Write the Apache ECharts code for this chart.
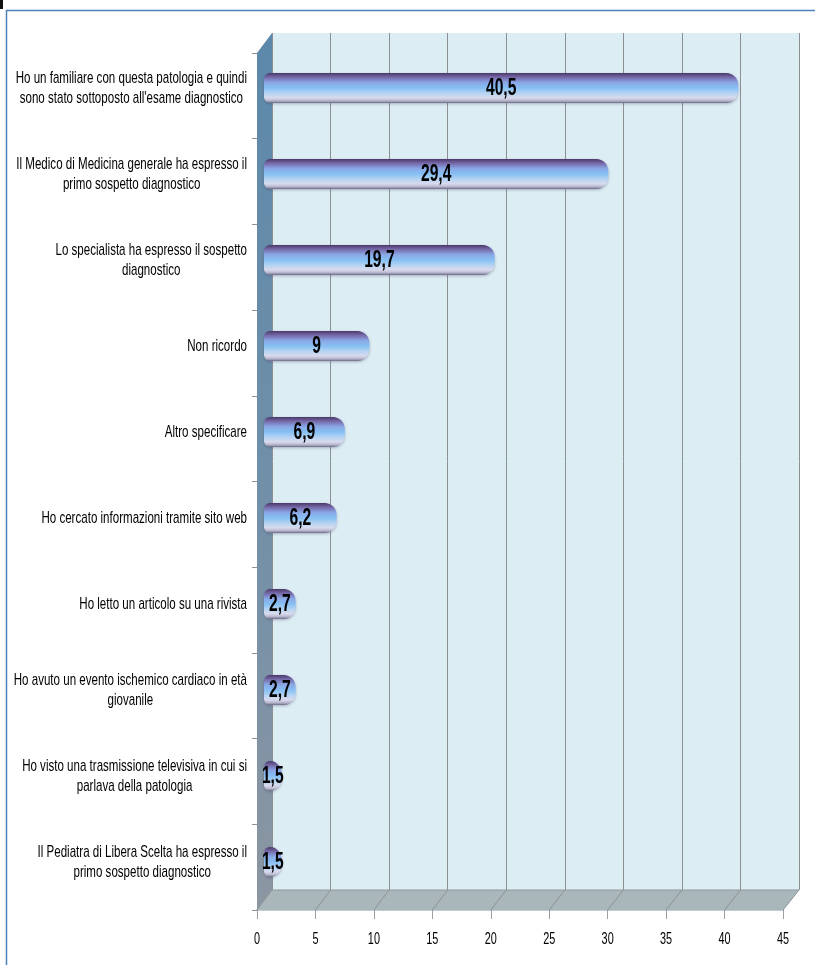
<!DOCTYPE html>
<html>
<head>
<meta charset="utf-8">
<script src="https://cdn.jsdelivr.net/npm/echarts@6/dist/echarts.min.js"></script>
<style>
  html, body { margin: 0; padding: 0; background: #ffffff; }
  #chart { width: 815px; height: 965px; }
</style>
</head>
<body>
<div id="chart"></div>
<script>
// Reasons behind the diagnostic test (percent of respondents)
const categories = [
  "Ho un familiare con questa patologia e quindi\nsono stato sottoposto all'esame diagnostico",
  "Il Medico di Medicina generale ha espresso il\nprimo sospetto diagnostico",
  "Lo specialista ha espresso il sospetto\ndiagnostico",
  "Non ricordo",
  "Altro specificare",
  "Ho cercato informazioni tramite sito web",
  "Ho letto un articolo su una rivista",
  "Ho avuto un evento ischemico cardiaco in età\ngiovanile",
  "Ho visto una trasmissione televisiva in cui si\nparlava della patologia",
  "Il Pediatra di Libera Scelta ha espresso il\nprimo sospetto diagnostico"
];
const values = [40.5, 29.4, 19.7, 9, 6.9, 6.2, 2.7, 2.7, 1.5, 1.5];
const xTicks = [0, 5, 10, 15, 20, 25, 30, 35, 40, 45];

// narrow lettering: Arial-metric face squeezed horizontally
const FONT = "'Liberation Sans', Arial, sans-serif";
const SQUEEZE = 0.68;
const xMin = xTicks[0], xMax = xTicks[xTicks.length - 1], xStep = xTicks[1] - xTicks[0];
const fmt = v => String(v).replace('.', ',');

const chart = echarts.init(document.getElementById('chart'), null, { renderer: 'canvas' });

const valueAxis = (gridIndex, extra) => Object.assign({
  type: 'value', gridIndex, min: xMin, max: xMax, interval: xStep,
  axisLine: { show: false }, axisTick: { show: false },
  axisLabel: { show: false }, splitLine: { show: false }
}, extra);

const catAxis = (gridIndex, extra) => Object.assign({
  type: 'category', gridIndex, data: categories, inverse: true,
  axisLine: { show: false }, axisTick: { show: false },
  axisLabel: { show: false }, splitLine: { show: false }
}, extra);

chart.setOption({
  animation: false,
  backgroundColor: '#ffffff',
  grid: [
    // back wall
    { left: 272, right: 16, top: 33, bottom: 75, show: true, backgroundColor: '#dcedf4', borderWidth: 0, outerBoundsMode: 'none' },
    // bar plane (mid depth)
    { left: 264, right: 24, top: 45, bottom: 60, outerBoundsMode: 'none' },
    // front edge with the value axis
    { left: 257, right: 32, top: 53, bottom: 55, outerBoundsMode: 'none' }
  ],
  xAxis: [
    valueAxis(0, { splitLine: { show: true, lineStyle: { color: '#8c9093', width: 1 } } }),
    valueAxis(1),
    valueAxis(2, {
      axisLine: { show: true, lineStyle: { color: '#c3ccd0', width: 2 } },
      axisTick: { show: true, length: 9, lineStyle: { color: '#9aa2a6' } }
    })
  ],
  yAxis: [
    catAxis(0),
    catAxis(1),
    catAxis(2, {
      axisTick: { show: true, inside: false, length: 5, lineStyle: { color: '#8a9296' } }
    })
  ],
  series: [{
    type: 'bar',
    xAxisIndex: 1, yAxisIndex: 1,
    data: values,
    barWidth: 30,
    z: 5,
    itemStyle: {
      borderRadius: [6, 12, 12, 6],
      color: new echarts.graphic.LinearGradient(0, 0, 0, 1, [
        { offset: 0.00, color: '#4a3868' },
        { offset: 0.14, color: '#7668a8' },
        { offset: 0.32, color: '#8aa8e6' },
        { offset: 0.50, color: '#86c0f4' },
        { offset: 0.68, color: '#b6d4f2' },
        { offset: 0.83, color: '#dadaee' },
        { offset: 0.93, color: '#b2b2ca' },
        { offset: 1.00, color: '#6a6a82' }
      ]),
      shadowColor: 'rgba(60,60,90,0.35)', shadowBlur: 3, shadowOffsetY: 1
    }
  }]
});

function squeezedText(x, y, text, size, weight, align, extra) {
  return Object.assign({
    type: 'text', z: 20, silent: true, x, y, scaleX: SQUEEZE, scaleY: 1,
    style: {
      text, fill: '#000', fontFamily: FONT, fontSize: size, fontWeight: weight,
      align, textAlign: align, verticalAlign: 'middle', textVerticalAlign: 'middle'
    }
  }, extra || {});
}

// 3-D box (side wall, floor, depth lines) and all lettering, placed from the axis scales
function decorate() {
  const xb = v => chart.convertToPixel({ xAxisIndex: 0 }, v);
  const xf = v => chart.convertToPixel({ xAxisIndex: 2 }, v);
  const W = chart.getWidth(), H = chart.getHeight();
  const backTop = 33, backBottom = H - 75, frontTop = 53, frontBottom = H - 55;

  const els = [];
  els.push({
    type: 'polygon', z: 3, silent: true,
    shape: { points: [[xb(xMin), backTop], [xb(xMin), backBottom], [xf(xMin), frontBottom], [xf(xMin), frontTop]] },
    style: {
      fill: new echarts.graphic.LinearGradient(0, 0, 0, 1, [
        { offset: 0, color: '#5c88aa' }, { offset: 0.55, color: '#7290a8' }, { offset: 1, color: '#8c96a2' }
      ])
    }
  });
  els.push({
    type: 'polygon', z: 3, silent: true,
    shape: { points: [[xb(xMin), backBottom], [xb(xMax), backBottom], [xf(xMax), frontBottom], [xf(xMin), frontBottom]] },
    style: { fill: '#a9b6ba' }
  });
  xTicks.forEach(v => {
    els.push({
      type: 'line', z: 3, silent: true,
      shape: { x1: xb(v), y1: backBottom, x2: xf(v), y2: frontBottom },
      style: { stroke: '#8a9397', lineWidth: 1 }
    });
    // value-axis tick labels
    els.push(squeezedText(xf(v), frontBottom + 30, String(v), 16, 'normal', 'center'));
  });
  els.push({
    type: 'line', z: 3, silent: true,
    shape: { x1: xb(xMin), y1: backBottom, x2: xb(xMax), y2: backBottom },
    style: { stroke: '#8f999d', lineWidth: 1 }
  });

  // category labels: block right-aligned to the axis, lines centred in the block
  const labelRight = chart.convertToPixel({ xAxisIndex: 1 }, xMin) - 17;
  categories.forEach((c, i) => {
    const y = chart.convertToPixel({ yAxisIndex: 1 }, i);
    const rich = c.split('\n').map(s => '{c|' + s + '}').join('\n');
    els.push({
      type: 'text', z: 20, silent: true, x: labelRight, y, scaleX: SQUEEZE, scaleY: 1,
      style: {
        text: rich, align: 'right', textAlign: 'right', verticalAlign: 'middle', textVerticalAlign: 'middle',
        rich: { c: { align: 'center', fontFamily: FONT, fontSize: 17, lineHeight: 20, fill: '#000', color: '#000' } }
      }
    });
  });

  // value labels centred on each bar
  values.forEach((v, i) => {
    const p0 = chart.convertToPixel({ seriesIndex: 0 }, [xMin, i]);
    const p1 = chart.convertToPixel({ seriesIndex: 0 }, [v, i]);
    els.push(squeezedText((p0[0] + p1[0]) / 2, p1[1] + 1, fmt(v), 23, 'bold', 'center'));
  });

  // page frame
  els.push({ type: 'line', z: 30, silent: true, shape: { x1: 6, y1: 10.5, x2: W, y2: 10.5 }, style: { stroke: '#4f81bd', lineWidth: 1.5 } });
  els.push({ type: 'line', z: 30, silent: true, shape: { x1: 6.5, y1: 10, x2: 6.5, y2: H }, style: { stroke: '#4f81bd', lineWidth: 1.5 } });
  els.push({ type: 'rect', z: 30, silent: true, shape: { x: 0, y: 0, width: 3, height: 9 }, style: { fill: '#111' } });

  chart.setOption({ graphic: { elements: els } });
}
decorate();
</script>
</body>
</html>
